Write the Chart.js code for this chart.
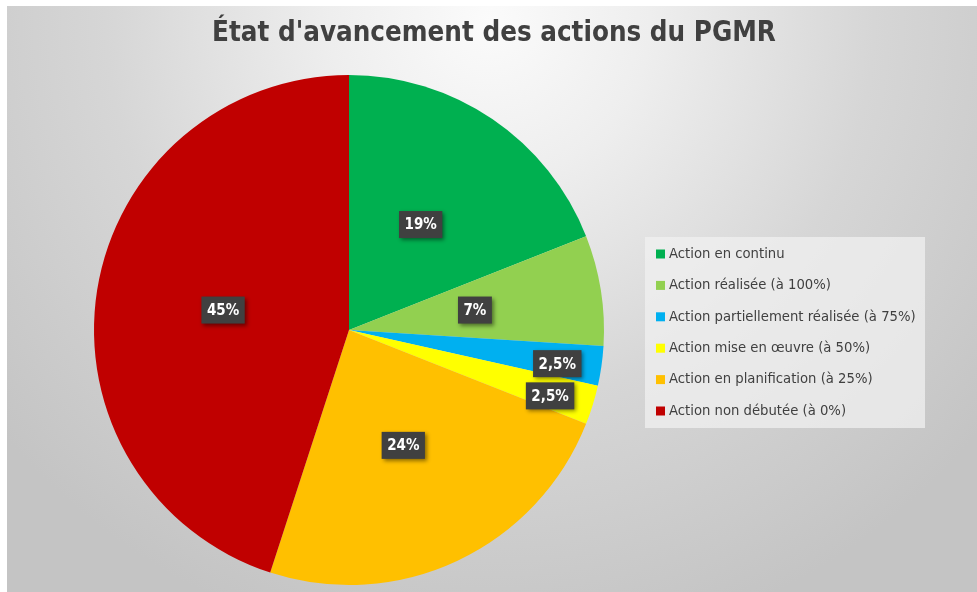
<!DOCTYPE html>
<html>
<head>
<meta charset="utf-8">
<script src="https://cdn.jsdelivr.net/npm/chart.js@4"></script>
<style>
  html, body { margin: 0; padding: 0; background: #ffffff; }
  #wrap { width: 977px; height: 592px; position: relative; }
</style>
</head>
<body>
<div id="wrap"><canvas id="c" width="977" height="592"></canvas></div>
<script>
const title = "État d'avancement des actions du PGMR";
const categories = [
  "Action en continu",
  "Action réalisée (à 100%)",
  "Action partiellement réalisée (à 75%)",
  "Action mise en œuvre (à 50%)",
  "Action en planification (à 25%)",
  "Action non débutée (à 0%)"
];
const values = [19, 7, 2.5, 2.5, 24, 45];
const valueLabels = ["19%", "7%", "2,5%", "2,5%", "24%", "45%"];
const colors = ["#00B050", "#92D050", "#00B0F0", "#FFFF00", "#FFC000", "#C00000"];

const FONT = '"Liberation Sans Narrow", "DejaVu Sans Condensed", "Roboto Condensed", sans-serif';

const bgPlugin = {
  id: 'bg',
  beforeDraw(chart) {
    const ctx = chart.ctx;
    ctx.save();
    ctx.fillStyle = '#ffffff';
    ctx.fillRect(0, 0, chart.width, chart.height);
    const g = ctx.createRadialGradient(490, 20, 0, 490, 20, 640);
    g.addColorStop(0, '#fbfbfb');
    g.addColorStop(0.25, '#eeeeee');
    g.addColorStop(0.6, '#d6d6d6');
    g.addColorStop(1, '#c4c4c4');
    ctx.fillStyle = g;
    ctx.fillRect(7, 6, chart.width - 7, chart.height - 6);
    // title
    ctx.fillStyle = '#404040';
    ctx.font = 'bold 27.5px ' + FONT;
    ctx.textAlign = 'center';
    ctx.textBaseline = 'middle';
    ctx.fillText(title, 494, 34);
    ctx.restore();
  }
};

const labelPlugin = {
  id: 'labels',
  afterDatasetsDraw(chart) {
    const ctx = chart.ctx;
    const meta = chart.getDatasetMeta(0);
    ctx.save();
    ctx.font = 'bold 15px ' + FONT;
    ctx.textAlign = 'center';
    ctx.textBaseline = 'middle';
    meta.data.forEach((arc, i) => {
      const p = arc.getProps(['x', 'y', 'startAngle', 'endAngle', 'outerRadius'], true);
      const mid = (p.startAngle + p.endAngle) / 2;
      const r = values[i] < 5 ? p.outerRadius * 0.825 : p.outerRadius * 0.5;
      let cx = p.x + Math.cos(mid) * r;
      let cy = p.y + Math.sin(mid) * r;
      if (values[i] < 5) { cy += 4; }
      const txt = valueLabels[i];
      const w = ctx.measureText(txt).width + 11;
      const h = 27;
      ctx.save();
      ctx.shadowColor = 'rgba(0,0,0,0.45)';
      ctx.shadowBlur = 4;
      ctx.shadowOffsetX = 2;
      ctx.shadowOffsetY = 2;
      ctx.fillStyle = '#404040';
      ctx.fillRect(cx - w / 2, cy - h / 2, w, h);
      ctx.restore();
      ctx.fillStyle = '#ffffff';
      ctx.fillText(txt, cx, cy + 1);
    });
    ctx.restore();
  }
};

const legendPlugin = {
  id: 'customLegend',
  afterDraw(chart) {
    const ctx = chart.ctx;
    ctx.save();
    ctx.fillStyle = 'rgba(240,240,240,0.75)';
    ctx.fillRect(645, 237, 280, 191);
    ctx.font = '14.7px ' + FONT;
    ctx.textAlign = 'left';
    ctx.textBaseline = 'middle';
    categories.forEach((c, i) => {
      const y = 254 + i * 31.4;
      ctx.fillStyle = colors[i];
      ctx.fillRect(656, y - 4.5, 9, 9);
      ctx.fillStyle = '#404040';
      ctx.fillText(c, 669, y);
    });
    ctx.restore();
  }
};

new Chart(document.getElementById('c'), {
  type: 'pie',
  data: {
    labels: categories,
    datasets: [{
      data: values,
      backgroundColor: colors,
      borderWidth: 0
    }]
  },
  options: {
    responsive: false,
    animation: false,
    layout: { padding: { left: 94, right: 373, top: 75, bottom: 7 } },
    plugins: {
      legend: { display: false },
      title: { display: false },
      tooltip: { enabled: false }
    }
  },
  plugins: [bgPlugin, labelPlugin, legendPlugin]
});
</script>
</body>
</html>
